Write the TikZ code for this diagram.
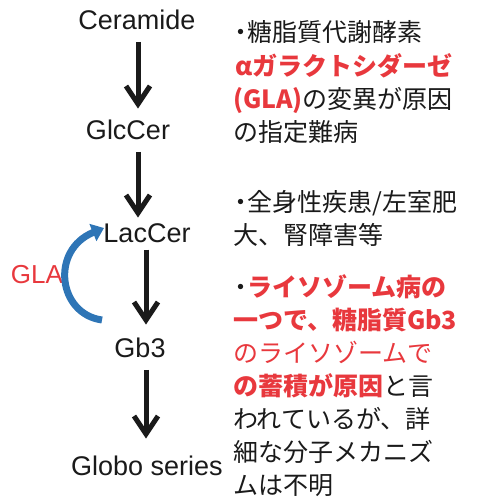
\documentclass[tikz,border=0pt]{standalone}
\usepackage{fontspec}
\setmainfont{Liberation Sans}
\newfontfamily\jp{Noto Sans CJK JP}
\usetikzlibrary{arrows.meta}
\definecolor{myred}{HTML}{E8383D}
\definecolor{myblue}{HTML}{2E75B6}
\definecolor{mytext}{HTML}{1A1A1A}
\newcommand{\bul}{\makebox[12pt][c]{・}}
\newcommand{\vhead}[1]{\draw[headst] ([shift={(-12,-18)}]#1) -- (#1) -- ([shift={(12,-18)}]#1);}
\begin{document}
\begin{tikzpicture}[x=1pt,y=-1pt,
  lbl/.style={font=\fontsize{27}{32}\selectfont, inner sep=0pt, outer sep=12pt, text=mytext},
  jtx/.style={font=\jp\fontsize{25}{30}\selectfont, anchor=west, inner sep=0pt, text height=20pt, text depth=3pt, text=mytext},
  shaft/.style={line width=5pt, mytext, shorten >=4pt},
  headst/.style={line width=5pt, mytext, line join=miter, miter limit=10},
  glaarrow/.style={line width=7pt, myblue, -{Triangle[length=12pt,width=18pt]}}]
\useasboundingbox (0,0) rectangle (485,503);
% pathway labels
\node[lbl] (cer) at (137,20) {Ceramide};
\node[lbl] (glc) at (128,130) {GlcCer};
\node[lbl] (lac) at (147,233) {LacCer};
\node[lbl] (gb3) at (140,348) {Gb3};
\node[lbl] (glo) at (147,466) {Globo series};
\coordinate (c1) at (138,0);
\coordinate (c2) at (146,0);
\coordinate (t1) at (138,104);
\coordinate (t2) at (138,213);
\coordinate (t3) at (146,320);
\coordinate (t4) at (146,434);
\draw[shaft] (cer.south -| c1) -- (t1); \vhead{t1}
\draw[shaft] (glc.south -| c1) -- (t2); \vhead{t2}
\draw[shaft] ([yshift=5pt]lac.south -| c2) -- (t3); \vhead{t3}
\draw[shaft] (gb3.south -| c2) -- (t4); \vhead{t4}
% GLA curved arrow
\node[font=\fontsize{26}{30}\selectfont, text=myred, inner sep=0pt] (gla) at (37,275) {GLA};
\coordinate (gs) at (102,320);
\coordinate (ge) at (104,228);
\draw[glaarrow] (gs) .. controls (58,314) and (50,250) .. (ge);
% right text block 1
\node[jtx] (a1) at (235,33) {\bul 糖脂質代謝酵素};
\node[jtx] (a2) at (235,67) {\color{myred}\bfseries αガラクトシダーゼ};
\node[jtx] (a3) at (233,100) {{\color{myred}\bfseries (GLA)}の変異が原因};
\node[jtx] (a4) at (233,133) {の指定難病};
% block 2
\node[jtx] (b1) at (235,203) {\bul 全身性疾患/左室肥};
\node[jtx] (b2) at (233,236) {大、腎障害等};
% block 3
\node[jtx] (d1) at (235,288) {\bul{\color{myred}\bfseries ライソゾーム病の}};
\node[jtx] (d2) at (233,321) {\color{myred}\bfseries 一つで、糖脂質Gb3};
\node[jtx] (d3) at (233,354) {\color{myred}のライソゾームで};
\node[jtx] (d4) at (233,387) {{\color{myred}\bfseries の蓄積が原因}と言};
\node[jtx] (d5) at (233,420) {われているが、詳};
\node[jtx] (d6) at (233,453) {細な分子メカニズ};
\node[jtx] (d7) at (233,486) {ムは不明};
\end{tikzpicture}
\end{document}
